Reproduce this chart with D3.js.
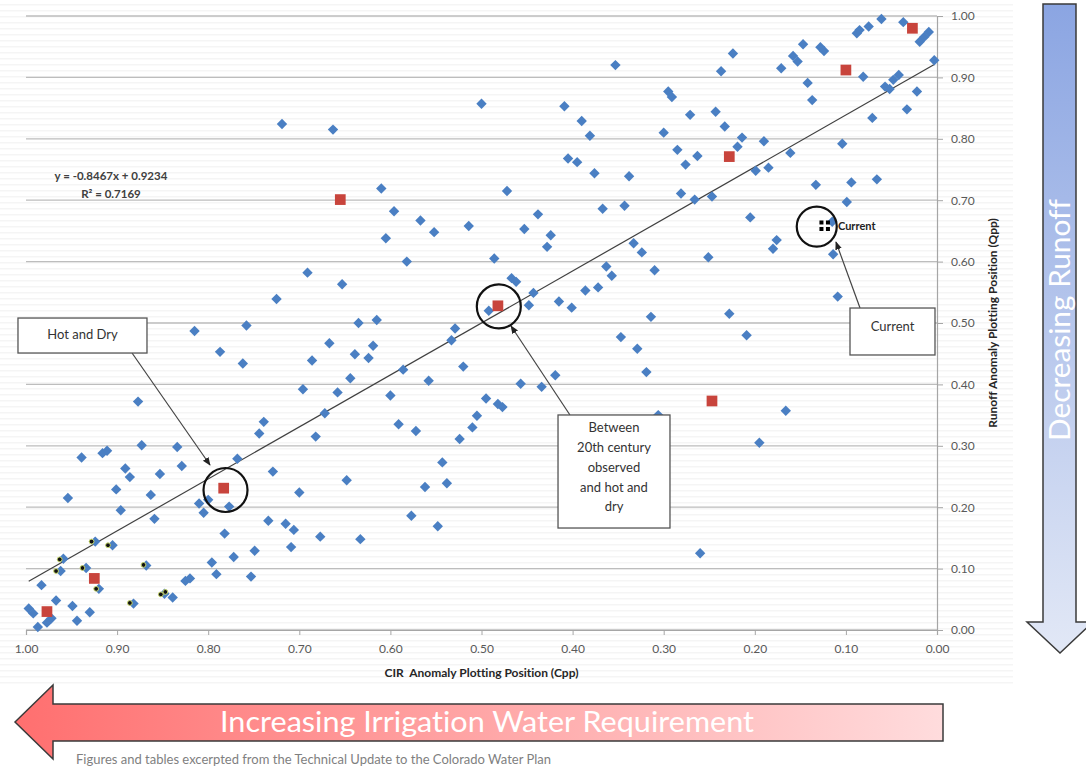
<!DOCTYPE html>
<html>
<head>
<meta charset="utf-8">
<script src="https://cdn.jsdelivr.net/npm/d3@7"></script>
<style>
  body { margin: 0; background: #fff; }
  svg { display: block; font-family: Lato, "Open Sans", sans-serif; font-variant-ligatures: none; }
</style>
</head>
<body>
<div id="chart"></div>
<script>
// ==== data (x = Cpp, y = Qpp) ====
const bluePoints = [
  [0.719,0.824],[0.663,0.815],
  [0.610,0.719],[0.596,0.682],[0.605,0.638],[0.567,0.667],[0.552,0.648],[0.514,0.658],[0.500,0.857],
  [0.472,0.715],[0.453,0.653],[0.438,0.677],[0.424,0.643],[0.428,0.624],[0.409,0.853],[0.390,0.829],
  [0.381,0.805],[0.405,0.768],[0.395,0.762],[0.376,0.744],[0.367,0.686],[0.343,0.691],[0.338,0.739],
  [0.353,0.920],[0.333,0.630],[0.324,0.615],[0.295,0.877],[0.291,0.868],[0.271,0.839],[0.300,0.810],
  [0.285,0.782],[0.276,0.758],[0.263,0.772],[0.281,0.711],[0.266,0.701],[0.582,0.600],[0.486,0.605],
  [0.237,0.910],[0.224,0.939],[0.243,0.844],[0.233,0.820],[0.247,0.706],[0.219,0.787],[0.214,0.802],
  [0.199,0.748],[0.190,0.796],[0.185,0.753],[0.205,0.672],[0.180,0.621],[0.176,0.635],[0.251,0.607],
  [0.171,0.915],[0.161,0.777],[0.158,0.935],[0.153,0.926],[0.147,0.954],[0.142,0.891],[0.137,0.863],
  [0.128,0.949],[0.124,0.943],[0.133,0.725],[0.104,0.792],[0.099,0.697],[0.094,0.729],[0.114,0.612],
  [0.088,0.972],[0.085,0.977],[0.081,0.901],[0.075,0.983],[0.071,0.834],[0.066,0.734],[0.061,0.995],
  [0.057,0.885],[0.052,0.881],[0.048,0.896],[0.042,0.904],[0.037,0.990],[0.033,0.848],[0.022,0.877],
  [0.019,0.958],[0.014,0.966],[0.009,0.974],[0.003,0.928],[0.115,0.665],
  [0.691,0.582],[0.653,0.563],[0.725,0.539],[0.815,0.487],[0.758,0.496],[0.787,0.453],[0.762,0.434],
  [0.635,0.500],[0.667,0.467],[0.686,0.439],[0.639,0.449],[0.644,0.410],[0.696,0.392],[0.658,0.387],
  [0.877,0.372],[0.739,0.339],[0.744,0.320],[0.672,0.353],[0.682,0.315],[0.873,0.301],[0.834,0.298],
  [0.492,0.520],[0.467,0.573],[0.462,0.567],[0.443,0.549],[0.448,0.529],[0.415,0.535],[0.401,0.525],
  [0.386,0.553],[0.372,0.558],[0.363,0.592],[0.357,0.577],[0.310,0.586],[0.314,0.510],[0.347,0.477],
  [0.329,0.458],[0.319,0.420],[0.615,0.505],[0.624,0.443],[0.619,0.463],[0.529,0.491],[0.533,0.472],
  [0.586,0.424],[0.520,0.429],[0.558,0.406],[0.600,0.382],[0.457,0.401],[0.434,0.396],[0.419,0.415],
  [0.495,0.377],[0.482,0.368],[0.477,0.363],[0.505,0.349],[0.510,0.330],[0.524,0.311],[0.591,0.335],
  [0.572,0.324],[0.543,0.273],[0.648,0.244],[0.562,0.233],[0.538,0.239],[0.577,0.186],[0.548,0.169],
  [0.306,0.350],
  [0.109,0.543],[0.228,0.515],[0.209,0.480],[0.166,0.357],[0.195,0.305],[0.260,0.125],
  [0.997,0.035],[0.992,0.027],[0.987,0.005],[0.977,0.012],[0.972,0.019],[0.983,0.073],[0.967,0.048],
  [0.949,0.039],[0.944,0.015],[0.930,0.029],[0.959,0.116],[0.962,0.096],[0.934,0.101],[0.924,0.144],
  [0.905,0.138],[0.868,0.105],[0.920,0.067],[0.882,0.043],[0.848,0.059],[0.839,0.053],[0.939,0.281],
  [0.916,0.288],[0.911,0.292],[0.954,0.215],[0.891,0.263],[0.886,0.249],[0.853,0.254],[0.829,0.267],
  [0.768,0.279],[0.901,0.229],[0.863,0.220],[0.896,0.195],[0.859,0.181],[0.810,0.206],[0.800,0.212],
  [0.805,0.191],[0.777,0.201],[0.782,0.157],[0.729,0.258],[0.700,0.224],[0.734,0.178],[0.715,0.173],
  [0.706,0.163],[0.677,0.152],[0.633,0.148],[0.749,0.129],[0.709,0.135],[0.772,0.119],[0.796,0.110],
  [0.791,0.091],[0.753,0.087],[0.825,0.080],[0.820,0.084]
];

const redPoints = [
  [0.977,0.030],[0.925,0.084],[0.783,0.231],[0.655,0.701],[0.482,0.528],
  [0.247,0.373],[0.228,0.771],[0.100,0.912],[0.027,0.980]
];

const blackPoints = [
  [0.963,0.115],[0.967,0.096],[0.938,0.101],[0.928,0.144],[0.910,0.138],
  [0.871,0.106],[0.923,0.067],[0.886,0.044],[0.852,0.058],[0.847,0.062]
];

const currentPoint = [0.123, 0.658];

const trend = { slope: -0.8467, intercept: 0.9234, r2: 0.7169 };

const xTicks = [1.0, 0.9, 0.8, 0.7, 0.6, 0.5, 0.4, 0.3, 0.2, 0.1, 0.0];
const yTicks = [0.0, 0.1, 0.2, 0.3, 0.4, 0.5, 0.6, 0.7, 0.8, 0.9, 1.0];

const xTitle = "CIR  Anomaly Plotting Position (Cpp)";
const yTitle = "Runoff Anomaly Plotting Position (Qpp)";

// callouts, in data units
const callouts = [
  { lines: ["Hot and Dry"], box: [1.0088, 0.8672, 0.5081, 0.4511], textY: [0.4785],
    from: [0.8836, 0.4511], to: [0.798, 0.2687], ring: [0.781, 0.228], r: 22 },
  { lines: ["Between", "20th century", "observed", "and hot and", "dry"], box: [0.4160, 0.2931, 0.3502, 0.1661],
    textY: [0.3285, 0.2960, 0.2620, 0.2305, 0.1985],
    from: [0.4029, 0.3502], to: [0.4676, 0.4951], ring: [0.481, 0.527], r: 22 },
  { lines: ["Current"], box: [0.0955, 0.0022, 0.5244, 0.4479], textY: [0.4925],
    from: [0.0845, 0.5244], to: [0.1109, 0.6319], ring: [0.132, 0.657], r: 20 }
];

// ==== drawing ====
const W = 1086, H = 767;
const svg = d3.select("#chart").append("svg").attr("width", W).attr("height", H);
const defs = svg.append("defs");

// faint striped chart-area background
const pat = defs.append("pattern").attr("id", "stripes")
  .attr("width", 8).attr("height", 6).attr("patternUnits", "userSpaceOnUse");
pat.append("rect").attr("width", 8).attr("height", 6).attr("fill", "#ffffff");
pat.append("rect").attr("y", 4).attr("width", 8).attr("height", 1.5).attr("fill", "#f5f5f5");
svg.append("rect").attr("x", 0).attr("y", 0).attr("width", 1013).attr("height", 686)
  .attr("fill", "url(#stripes)");

const x = d3.scaleLinear().domain([1, 0]).range([26, 937]);
const y = d3.scaleLinear().domain([0, 1]).range([630, 16]);

// gridlines
svg.append("g").selectAll("line").data(yTicks).join("line")
  .attr("x1", x(1)).attr("x2", x(0))
  .attr("y1", d => y(d)).attr("y2", d => y(d))
  .attr("stroke", "#bdbdbd").attr("stroke-width", 1.3);

// right axis
const yAxis = svg.append("g").attr("transform", `translate(${x(0)},0)`)
  .call(d3.axisRight(y).tickValues(yTicks).tickFormat(d3.format(".2f")).tickSize(6).tickPadding(8));
yAxis.select(".domain").attr("stroke", "#a6a6a6").attr("stroke-width", 1.2);
yAxis.selectAll(".tick line").attr("stroke", "#a6a6a6");
yAxis.selectAll("text").attr("fill", "#595959").attr("font-size", 12).attr("font-family", "Lato, sans-serif");

// bottom axis
const xAxis = svg.append("g").attr("transform", `translate(0,${y(0)})`)
  .call(d3.axisBottom(x).tickValues(xTicks).tickFormat(d3.format(".2f")).tickSize(5).tickPadding(9));
xAxis.select(".domain").attr("stroke", "#a6a6a6").attr("stroke-width", 1.2);
xAxis.selectAll(".tick line").attr("stroke", "#a6a6a6");
xAxis.selectAll("text").attr("fill", "#595959").attr("font-size", 12).attr("font-family", "Lato, sans-serif");

// axis titles
svg.append("text").attr("x", (x(1) + x(0)) / 2).attr("y", 677)
  .attr("text-anchor", "middle").attr("font-size", 12).attr("font-weight", 700).attr("fill", "#262626")
  .style("white-space", "pre")
  .text(xTitle);
svg.append("text").attr("transform", `translate(997,${(y(0) + y(1)) / 2}) rotate(-90)`)
  .attr("text-anchor", "middle").attr("font-size", 12).attr("font-weight", 700).attr("fill", "#262626")
  .text(yTitle);

// trendline
const xr = d3.extent(bluePoints, d => d[0]);
svg.append("line")
  .attr("x1", x(xr[1])).attr("y1", y(trend.slope * xr[1] + trend.intercept))
  .attr("x2", x(xr[0])).attr("y2", y(trend.slope * xr[0] + trend.intercept))
  .attr("stroke", "#404040").attr("stroke-width", 1.2);

// equation
const eq = svg.append("g").attr("font-size", 11.5).attr("font-weight", 700).attr("fill", "#404040")
  .attr("text-anchor", "middle");
eq.append("text").attr("x", x(0.9067)).attr("y", y(0.733))
  .text(`y = ${trend.slope}x + ${trend.intercept}`);
eq.append("text").attr("x", x(0.9067)).attr("y", y(0.704))
  .text(`R² = ${trend.r2}`);

// blue diamonds
const diamond = d3.symbol().type(d3.symbolSquare).size(54);
svg.append("g").selectAll("path").data(bluePoints).join("path")
  .attr("d", diamond)
  .attr("transform", d => `translate(${x(d[0])},${y(d[1])}) rotate(45)`)
  .attr("fill", "#4a7fc3");

// red squares
const square = d3.symbol().type(d3.symbolSquare).size(115);
svg.append("g").selectAll("path").data(redPoints).join("path")
  .attr("d", square)
  .attr("transform", d => `translate(${x(d[0])},${y(d[1])})`)
  .attr("fill", "#c8443c");

// black dots
svg.append("g").selectAll("circle").data(blackPoints).join("circle")
  .attr("cx", d => x(d[0])).attr("cy", d => y(d[1])).attr("r", 2.4)
  .attr("fill", "#111").attr("stroke", "#c5d66a").attr("stroke-width", 1);

// current marker (2x2 black squares)
const cg = svg.append("g").attr("transform", `translate(${x(currentPoint[0])},${y(currentPoint[1])})`);
[[-3.5, -3.5], [3, -3.5], [-3.5, 3], [3, 3]].forEach(o => {
  cg.append("rect").attr("x", o[0] - 2).attr("y", o[1] - 2).attr("width", 4).attr("height", 4).attr("fill", "#000");
});
svg.append("text").attr("x", x(currentPoint[0]) + 13).attr("y", y(currentPoint[1]) + 4)
  .attr("font-size", 11).attr("font-weight", 700).attr("fill", "#222").text("Current");

// callouts
defs.append("marker").attr("id", "arrowHead").attr("viewBox", "0 0 10 10")
  .attr("refX", 9).attr("refY", 5).attr("markerWidth", 7).attr("markerHeight", 7)
  .attr("orient", "auto-start-reverse")
  .append("path").attr("d", "M0,1 L10,5 L0,9 z").attr("fill", "#222");

callouts.forEach(c => {
  const g = svg.append("g");
  g.append("line")
    .attr("x1", x(c.from[0])).attr("y1", y(c.from[1]))
    .attr("x2", x(c.to[0])).attr("y2", y(c.to[1]))
    .attr("stroke", "#444").attr("stroke-width", 1.2).attr("marker-end", "url(#arrowHead)");
  g.append("circle").attr("cx", x(c.ring[0])).attr("cy", y(c.ring[1])).attr("r", c.r)
    .attr("fill", "none").attr("stroke", "#111").attr("stroke-width", 2.2);
  const bx = x(c.box[0]), bx2 = x(c.box[1]), by = y(c.box[2]), by2 = y(c.box[3]);
  g.append("rect").attr("x", bx).attr("y", by).attr("width", bx2 - bx).attr("height", by2 - by)
    .attr("fill", "#fff").attr("stroke", "#555").attr("stroke-width", 1.3);
  c.lines.forEach((t, i) => {
    g.append("text").attr("x", (bx + bx2) / 2).attr("y", y(c.textY[i]))
      .attr("text-anchor", "middle").attr("dominant-baseline", "middle")
      .attr("font-size", 13).attr("fill", "#333").text(t);
  });
});

// big direction arrows
const gRed = defs.append("linearGradient").attr("id", "redGrad").attr("x1", 0).attr("x2", 1).attr("y1", 0).attr("y2", 0);
gRed.append("stop").attr("offset", "0%").attr("stop-color", "#ff6f6f");
gRed.append("stop").attr("offset", "100%").attr("stop-color", "#ffdcdd");
const gBlue = defs.append("linearGradient").attr("id", "blueGrad").attr("x1", 0).attr("x2", 0).attr("y1", 0).attr("y2", 1);
gBlue.append("stop").attr("offset", "0%").attr("stop-color", "#8ba5e2");
gBlue.append("stop").attr("offset", "100%").attr("stop-color", "#e2e8f6");

svg.append("path")
  .attr("d", "M15,722 L53,685 L53,704 L943,704 L943,741 L53,741 L53,759 Z")
  .attr("fill", "url(#redGrad)").attr("stroke", "#3a3a3a").attr("stroke-width", 1.5);
svg.append("text").attr("x", 487).attr("y", 732).attr("text-anchor", "middle")
  .attr("font-size", 28).attr("fill", "#fff").attr("textLength", 534).attr("lengthAdjust", "spacingAndGlyphs")
  .text("Increasing Irrigation Water Requirement");

svg.append("path")
  .attr("d", "M1043,4 L1076,4 L1076,622 L1093,622 L1060,653 L1027,622 L1043,622 Z")
  .attr("fill", "url(#blueGrad)").attr("stroke", "#3a3a3a").attr("stroke-width", 1.5);
svg.append("text").attr("transform", "translate(1070,320) rotate(-90)").attr("text-anchor", "middle")
  .attr("font-size", 28).attr("fill", "#fff").attr("textLength", 242).attr("lengthAdjust", "spacingAndGlyphs")
  .text("Decreasing Runoff");

// caption at the very bottom
svg.append("text").attr("x", 76).attr("y", 764).attr("font-size", 13).attr("fill", "#7f7f7f")
  .text("Figures and tables excerpted from the Technical Update to the Colorado Water Plan");
</script>
</body>
</html>
